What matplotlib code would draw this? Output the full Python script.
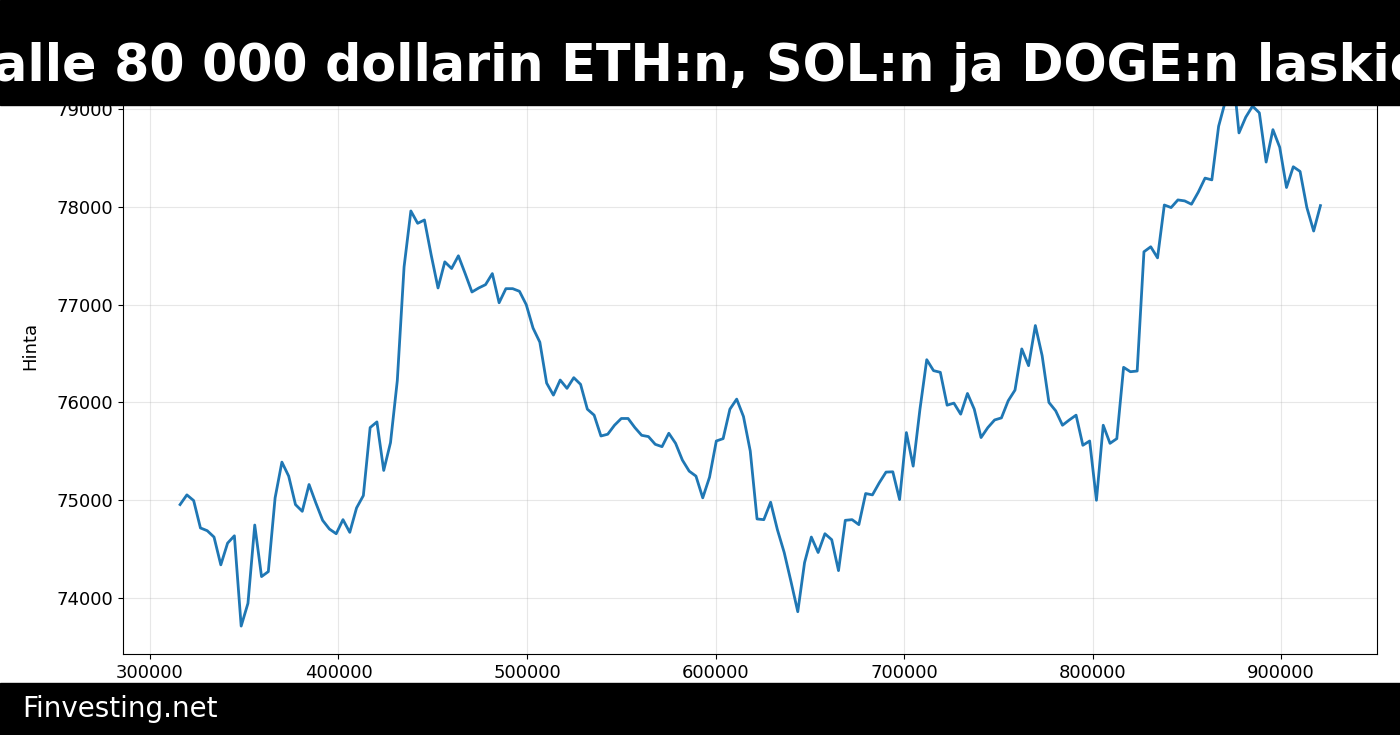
import numpy as np
import matplotlib.pyplot as plt
from matplotlib.patches import Rectangle

# hourly closing price
price = [
    74955, 75054, 74996, 74716, 74688, 74623, 74339, 74561, 74636, 73713,
    73946, 74746, 74219, 74270, 75024, 75389, 75246, 74955, 74886, 75160,
    74972, 74794, 74705, 74657, 74801, 74671, 74921, 75047, 75742, 75800,
    75304, 75588, 76221, 77385, 77956, 77830, 77864, 77504, 77169, 77436,
    77368, 77498, 77316, 77128, 77169, 77203, 77316, 77018, 77162, 77162,
    77135, 76998, 76759, 76615, 76197, 76074, 76228, 76143, 76252, 76184,
    75930, 75869, 75656, 75674, 75766, 75835, 75835, 75742, 75663, 75650,
    75571, 75547, 75684, 75581, 75410, 75297, 75246, 75024, 75235, 75605,
    75629, 75930, 76033, 75855, 75502, 74808, 74801, 74979, 74698, 74465,
    74168, 73860, 74362, 74623, 74465, 74657, 74596, 74280, 74794, 74801,
    74750, 75068, 75054, 75177, 75287, 75290, 75006, 75691, 75348, 75930,
    76436, 76324, 76307, 75971, 75992, 75879, 76091, 75930, 75640, 75742,
    75820, 75841, 76016, 76125, 76546, 76375, 76785, 76477, 75999, 75913,
    75766, 75820, 75869, 75561, 75605, 74999, 75766, 75581, 75629, 76358,
    76313, 76320, 77539, 77590, 77477, 78017, 77991, 78069, 78059, 78025,
    78148, 78292, 78274, 78822, 79080, 79450, 78754, 78915, 79028, 78959,
    78456, 78787, 78607, 78196, 78408, 78360, 77991, 77751, 78011,
]
start_sec = 316000
step_sec = 3600
seconds = start_sec + step_sec * np.arange(len(price))

title = "BTC alle 80 000 dollarin ETH:n, SOL:n ja DOGE:n laskiessa"
brand = "Finvesting.net"
ylabel = "Hinta"

fig = plt.figure(figsize=(14, 7.35), dpi=100)
ax = fig.add_axes([0.0879, 0.110, 0.896, 0.840])

ax.plot(seconds, price, color='#1f77b4', linewidth=2)
ax.grid(True, color='#b0b0b0', alpha=0.3)
ax.set_ylabel(ylabel, fontsize=13)
ax.yaxis.set_label_coords(-0.067, 0.5)
ax.tick_params(labelsize=13)

# black banners top and bottom
fig.add_artist(Rectangle((0, 0.857), 1, 0.143, transform=fig.transFigure,
                         color='black', zorder=10))
fig.add_artist(Rectangle((0, 0), 1, 0.0707, transform=fig.transFigure,
                         color='black', zorder=10))
fig.text(0.4943, 0.890, title, color='white', fontsize=36.5, fontweight='bold',
         ha='center', va='baseline', zorder=11)
fig.text(0.0157, 0.0245, brand, color='white', fontsize=20,
         ha='left', va='baseline', zorder=11)

fig.savefig('out.png', dpi=100)
